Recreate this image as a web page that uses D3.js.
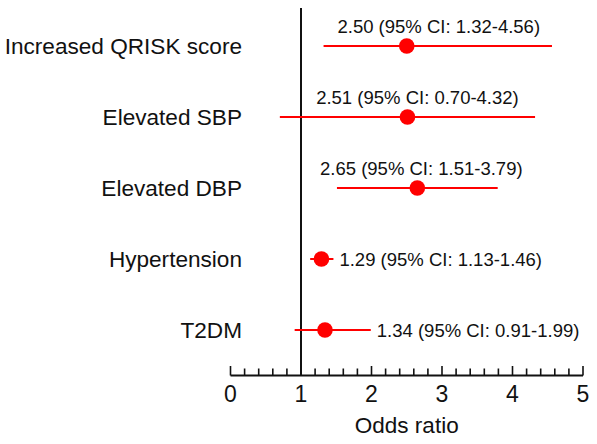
<!DOCTYPE html>
<html><head><meta charset="utf-8">
<script src="https://cdn.jsdelivr.net/npm/d3@7"></script>
<style>body{margin:0;background:#fff}svg{display:block}text{font-family:"Liberation Sans",Arial,sans-serif;fill:#111}</style>
</head><body>
<svg id="c" width="597" height="444"></svg>
<script>
const categories = ["Increased QRISK score","Elevated SBP","Elevated DBP","Hypertension","T2DM"];
const oddsRatio = [2.50, 2.51, 2.65, 1.29, 1.34];
const ciLow = [1.32, 0.70, 1.51, 1.13, 0.91];
const ciHigh = [4.56, 4.32, 3.79, 1.46, 1.99];
const labelAbove = [true, true, true, false, false];
const axisTicks = [0,1,2,3,4,5];

const svg = d3.select("#c");
const x = d3.scaleLinear().domain([0,5]).range([230.5,583]);
const y = d3.scalePoint().domain(categories).range([46,330]);
const axisY = 375.5;
const red = "#ff0000";
const aboveNudge = [1, 10, 4];

// axis
const ax = svg.append("g").attr("transform",`translate(0,${axisY})`);
ax.append("line").attr("x1",x(0)).attr("x2",x(5)).attr("stroke","#111").attr("stroke-width",2);
const minor = d3.range(0,5.0001,0.2).map(v=>+v.toFixed(1));
ax.selectAll("line.t").data(minor).join("line").attr("class","t")
  .attr("x1",d=>x(d)).attr("x2",d=>x(d)).attr("y1",0)
  .attr("y2",d=>Number.isInteger(d)?-9.5:-7).attr("stroke","#111").attr("stroke-width",1.6);
ax.selectAll("text.tl").data(axisTicks).join("text").attr("class","tl")
  .attr("x",d=>x(d)).attr("y",26.5).attr("text-anchor","middle").style("font-size","23px").text(d=>d);
svg.append("text").attr("x",(x(0)+x(5))/2).attr("y",432.5).attr("text-anchor","middle")
  .style("font-size","22.5px").text("Odds ratio");

// reference line at 1
svg.append("line").attr("x1",x(1)).attr("x2",x(1)).attr("y1",8).attr("y2",axisY)
  .attr("stroke","#111").attr("stroke-width",2);

// category labels
svg.selectAll("text.cat").data(categories).join("text").attr("class","cat")
  .attr("x",242).attr("y",d=>y(d)+8).attr("text-anchor","end").style("font-size","22.6px").text(d=>d);

// CI lines and points
const rows = categories.map((c,i)=>({c,or:oddsRatio[i],lo:ciLow[i],hi:ciHigh[i],above:labelAbove[i],i}));
svg.selectAll("line.ci").data(rows).join("line").attr("class","ci")
  .attr("x1",d=>x(d.lo)).attr("x2",d=>x(d.hi)).attr("y1",d=>y(d.c)).attr("y2",d=>y(d.c))
  .attr("stroke",red).attr("stroke-width",2);
svg.selectAll("circle.pt").data(rows).join("circle").attr("class","pt")
  .attr("cx",d=>x(d.or)).attr("cy",d=>y(d.c)).attr("r",7.8).attr("fill",red);

// annotations
const fmt = d3.format(".2f");
svg.selectAll("text.ann").data(rows).join("text").attr("class","ann")
  .attr("x",d=>d.above ? x((d.lo+d.hi)/2)+aboveNudge[d.i] : x(d.hi)+6)
  .attr("y",d=>d.above ? y(d.c)-13 : y(d.c)+7)
  .attr("text-anchor",d=>d.above?"middle":"start")
  .style("font-size","18.5px")
  .text(d=>`${fmt(d.or)} (95% CI: ${fmt(d.lo)}-${fmt(d.hi)})`);
</script>
</body></html>
